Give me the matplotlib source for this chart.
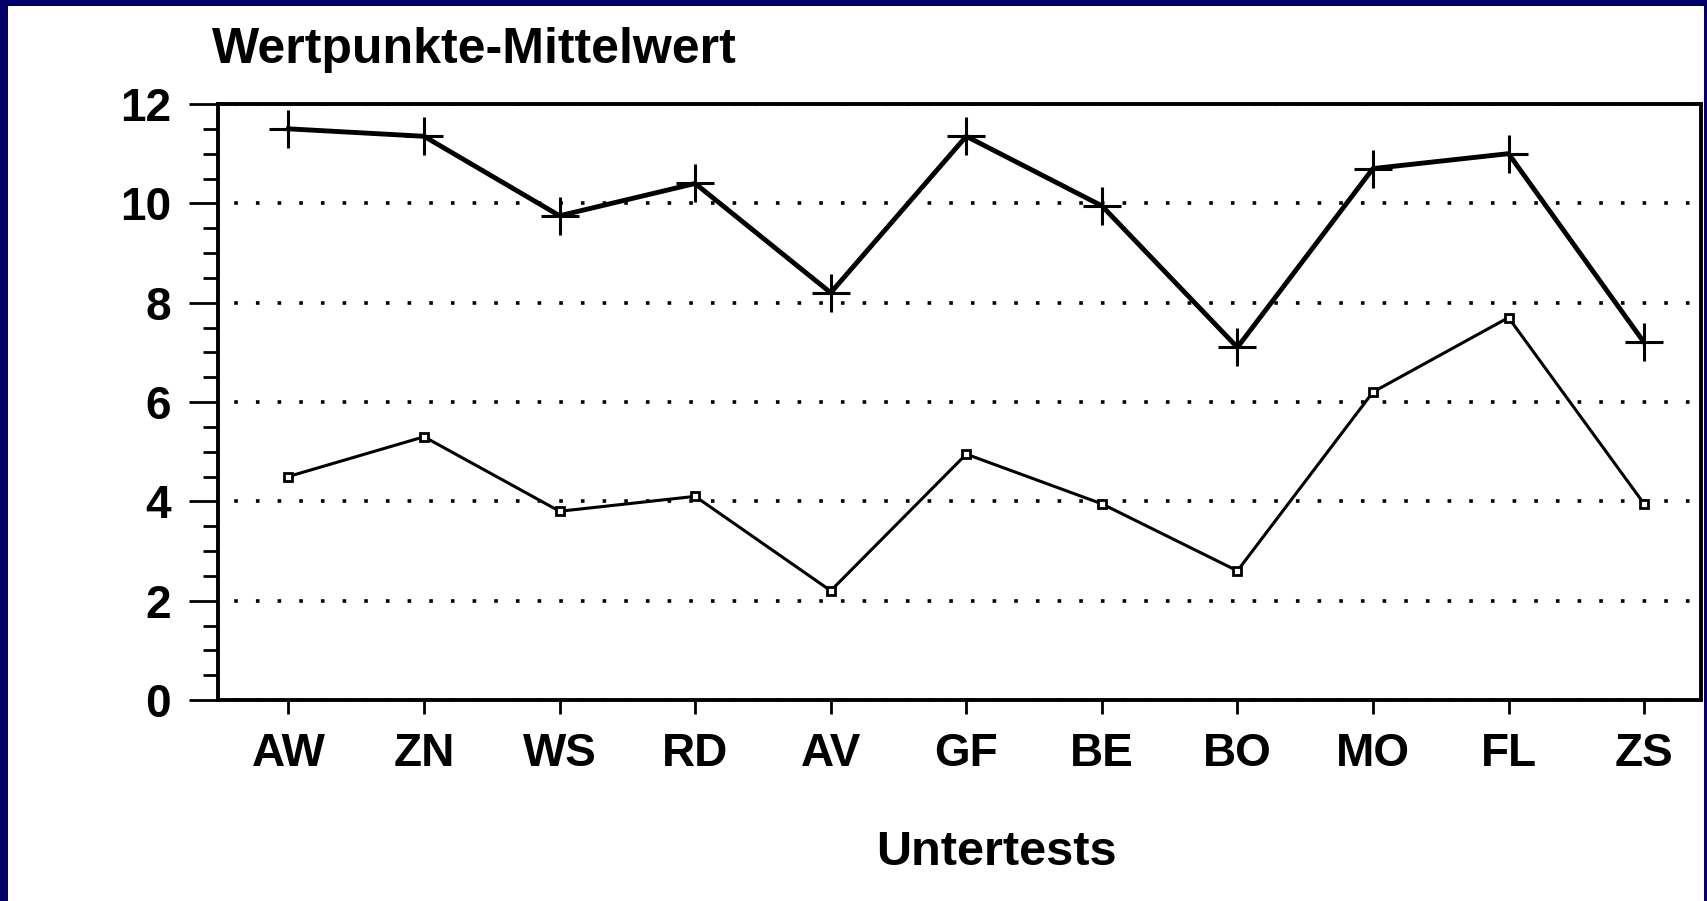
import numpy as np
import matplotlib
matplotlib.use('Agg')
import matplotlib.pyplot as plt
from matplotlib.patches import Rectangle
from matplotlib.ticker import MultipleLocator

# Untertests and mean scaled scores
untertests = ['AW', 'ZN', 'WS', 'RD', 'AV', 'GF', 'BE', 'BO', 'MO', 'FL', 'ZS']
oben = [11.5, 11.35, 9.75, 10.4, 8.2, 11.35, 9.95, 7.1, 10.7, 11.0, 7.2]
unten = [4.5, 5.3, 3.8, 4.1, 2.2, 4.95, 3.95, 2.6, 6.2, 7.7, 3.95]

plt.rcParams['font.family'] = ['Liberation Sans', 'DejaVu Sans']

W, H = 1707, 901
fig = plt.figure(figsize=(W / 100, H / 100), dpi=100)
fig.patch.set_facecolor('#000066')
# white scanned page inside the navy frame
fig.add_artist(Rectangle((8 / W, 0), (1704 - 8) / W, 1 - 6 / H,
                         transform=fig.transFigure, facecolor='white',
                         edgecolor='none', zorder=0))

ax = fig.add_axes([218 / W, 1 - 700 / H, (1701 - 218) / W, (700 - 104) / H])
ax.set_facecolor('white')

x = np.arange(len(untertests))
ax.plot(x, oben, color='black', lw=3.5, marker='+', ms=27, mew=2.2, zorder=3)
ax.plot(x, unten, color='black', lw=2.2, marker='s', ms=6, mew=2,
        mfc='white', mec='black', zorder=3)

ax.set_xlim(-0.52, 10.42)
ax.set_ylim(0, 12)
ax.set_xticks(x)
ax.set_xticklabels(untertests)
ax.yaxis.set_major_locator(MultipleLocator(2))
ax.yaxis.set_minor_locator(MultipleLocator(0.5))

for s in ax.spines.values():
    s.set_linewidth(2.8)

ax.tick_params(axis='x', which='both', direction='out', length=10, width=2,
               pad=13, labelsize=33, top=False)
ax.tick_params(axis='y', which='major', direction='out', length=21, width=2,
               pad=13, labelsize=33, right=False)
ax.tick_params(axis='y', which='minor', direction='out', length=11, width=2,
               right=False)
for lab in ax.get_xticklabels() + ax.get_yticklabels():
    lab.set_fontweight('bold')

ax.yaxis.grid(True, which='major', color='black', lw=2.6,
              linestyle=(1.5, (1, 5.0)), zorder=1)
ax.set_axisbelow(True)

fig.text(212 / W, 1 - 63 / H, 'Wertpunkte-Mittelwert', fontsize=36,
         fontweight='bold', ha='left', va='baseline')
fig.text(996 / W, 1 - 865 / H, 'Untertests', fontsize=35,
         fontweight='bold', ha='center', va='baseline')

fig.savefig('out.png', dpi=100, facecolor=fig.get_facecolor())
